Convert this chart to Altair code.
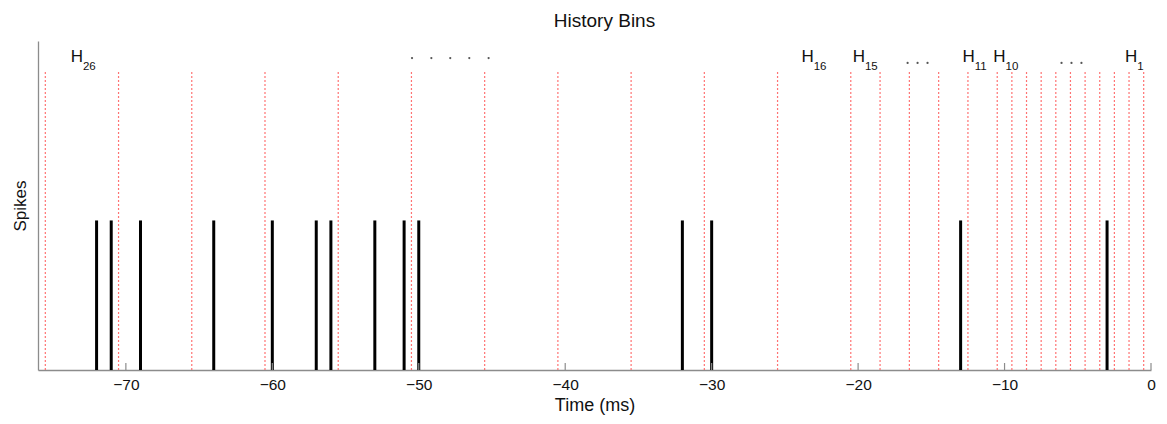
import altair as alt
import pandas as pd

# Boundaries of the 26 history bins (ms before the current time)
bin_edges = [-75.5, -70.5, -65.5, -60.5, -55.5, -50.5, -45.5, -40.5, -35.5,
             -30.5, -25.5, -20.5, -18.5, -16.5, -14.5, -12.5, -10.5, -9.5,
             -8.5, -7.5, -6.5, -5.5, -4.5, -3.5, -2.5, -1.5, -0.5]

# Spike times (ms)
spike_times = [-72, -71, -69, -64, -60, -57, -56, -53, -51, -50, -32, -30, -13, -3]

# Labelled bins: subscript and anchor position of each label
label_idx = ["26", "16", "15", "11", "10", "1"]
label_pos = [-73, -23.1, -19.6, -12.1, -10, -1]

# Ellipsis dots between the labelled bins
dot_x = [-50.46, -49.14, -47.85, -46.55, -45.23,
         -16.62, -15.94, -15.26, -6.11, -5.43, -4.75]
dot_y = [2.086, 2.086, 2.086, 2.086, 2.086,
         2.053, 2.053, 2.053, 2.053, 2.053, 2.053]

tick_values = [-70, -60, -50, -40, -30, -20, -10, 0]

FONT = "Liberation Sans"
X_DOMAIN = [-76, 0]
Y_DOMAIN = [0, 2.2]
AXIS_GREY = "#8c8c8c"
TEXT = "#111111"

edges_df = pd.DataFrame({"x": bin_edges, "y": 0.0, "y2": 2.0})
spikes_df = pd.DataFrame({"x": spike_times, "y": 0.0, "y2": 1.0})
labels_df = pd.DataFrame({"x": label_pos, "idx": label_idx, "y": 2.06})
dots_df = pd.DataFrame({"x": dot_x, "y": dot_y})
ticks_df = pd.DataFrame({"x": tick_values})

x_axis = alt.Axis(
    title="Time (ms)", values=tick_values, ticks=False, grid=False,
    domainColor=AXIS_GREY, domainWidth=1.3,
    labelFont=FONT, labelFontSize=15.5, labelColor=TEXT, labelPadding=7,
    labelFlush=False,
    titleFont=FONT, titleFontSize=18, titleFontWeight="normal",
    titleColor=TEXT, titlePadding=4,
)
y_axis = alt.Axis(
    title="Spikes", labels=False, ticks=False, grid=False,
    domainColor=AXIS_GREY, domainWidth=1.3,
    titleFont=FONT, titleFontSize=17, titleFontWeight="normal",
    titleColor=TEXT, titlePadding=9,
)

x_enc = alt.X("x:Q", scale=alt.Scale(domain=X_DOMAIN, nice=False, zero=False), axis=x_axis)
y_enc = alt.Y("y:Q", scale=alt.Scale(domain=Y_DOMAIN, nice=False), axis=y_axis)

# Dotted red bin boundaries
edges = alt.Chart(edges_df).mark_rule(
    stroke="#ff5a5a", strokeWidth=1.2, strokeDash=[2, 2], strokeOpacity=0.85
).encode(x=x_enc, y=y_enc, y2="y2:Q")

# Spike train
spikes = alt.Chart(spikes_df).mark_rule(stroke="#000000", strokeWidth=3).encode(
    x=x_enc, y=y_enc, y2="y2:Q"
)

# Inward-pointing x-axis ticks
ticks = alt.Chart(ticks_df).mark_rule(stroke=AXIS_GREY, strokeWidth=1.2).encode(
    x=x_enc, y=alt.value(329), y2=alt.value(322)
)

# Bin labels: H with subscript index
h_letters = alt.Chart(labels_df).mark_text(
    text="H", font=FONT, fontSize=17, align="right", baseline="alphabetic",
    dx=1, fill=TEXT
).encode(x=x_enc, y=y_enc)

h_subs = alt.Chart(labels_df).mark_text(
    font=FONT, fontSize=11.5, align="left", baseline="alphabetic",
    dx=1, dy=8, fill=TEXT
).encode(x=x_enc, y=y_enc, text="idx:N")

dots = alt.Chart(dots_df).mark_circle(fill="#555555", size=5, opacity=1).encode(
    x=x_enc, y=y_enc
)

chart = alt.layer(edges, spikes, ticks, h_letters, h_subs, dots).properties(
    width=1113,
    height=329,
    background="white",
    title=alt.TitleParams(
        "History Bins", font=FONT, fontSize=19, fontWeight="normal",
        color=TEXT, offset=10, anchor="middle", dx=10
    ),
    autosize=alt.AutoSizeParams(type="none"),
    padding={"left": 38, "top": 41, "right": 16, "bottom": 54},
).configure_view(stroke=None)

chart.save("out.html", embed_options={"renderer": "svg", "actions": False})
